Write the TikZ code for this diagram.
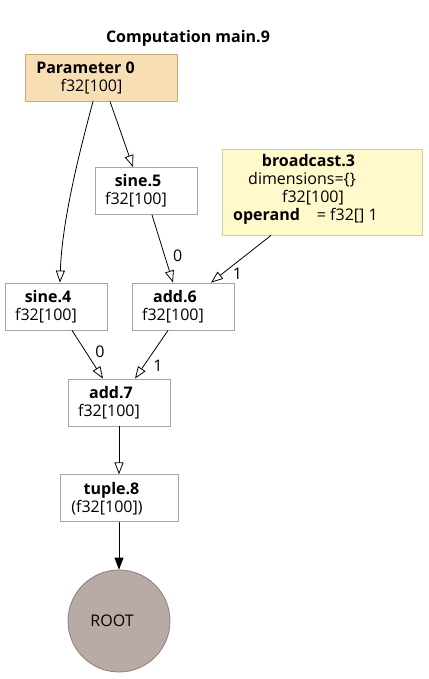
\documentclass[tikz,border=0pt]{standalone}
\usepackage{fontspec}
\setmainfont{Open Sans}
\usetikzlibrary{positioning,arrows.meta}

\definecolor{boxgray}{HTML}{A6A6A6}
\definecolor{paramfill}{HTML}{F8DEB5}
\definecolor{paramline}{HTML}{C9A978}
\definecolor{bcfill}{HTML}{FFF9CB}
\definecolor{bcline}{HTML}{D6CE98}
\definecolor{rootfill}{HTML}{B8ABA6}
\definecolor{rootline}{HTML}{8B7D78}

% op label: bold name over shape, both set a bit left of centre
\newcommand{\optext}[2]{\textbf{#1}\hspace*{16pt}\\#2\hspace*{20pt}}

\begin{document}
\begin{tikzpicture}[x=1pt,y=-1pt,
  every node/.style={font=\fontsize{16}{18}\selectfont},
  op/.style={draw=boxgray,fill=white,minimum width=102pt,minimum height=47pt,align=center,inner sep=0pt},
  param/.style={op,draw=paramline,fill=paramfill,minimum width=152pt},
  bcbox/.style={draw=bcline,fill=bcfill,minimum width=200pt,minimum height=86pt,inner sep=0pt},
  rootnode/.style={draw=rootline,fill=rootfill,circle,minimum size=102pt,inner sep=0pt},
  lbl/.style={inner sep=0pt},
  >={Triangle[open,length=12pt,width=9pt]}, line width=0.8pt]

\useasboundingbox (0,0) rectangle (428,679);

\node[font=\fontsize{16}{18}\selectfont\bfseries] (title) at (188,38) {Computation main.9};

\node[param] (p0) at (101,77.5) {\textbf{Parameter 0}\hspace*{31pt}\\f32[100]\hspace*{19pt}};
\node[op] (sine5) at (146,191) {\optext{sine.5}{f32[100]}};
\node[bcbox] (bc) at (322,192) {};
\node[align=center] (bctext) at (302,189)
  {\hspace*{13pt}\textbf{broadcast.3}\\dimensions=\{\}\\\hspace*{22pt}f32[100]\\\hspace*{7pt}\textbf{operand}\hspace{17pt}= f32[] 1};
\node[op] (sine4) at (56,306.5) {\optext{sine.4}{f32[100]}};
\node[op] (add6) at (183,306.5) {\optext{add.6}{f32[100]}};
\node[op] (add7) at (119,402.5) {\optext{add.7}{f32[100]}};
\node[op,minimum width=118pt,below=48pt of add7] (tuple8) {\textbf{tuple.8}\hspace*{15pt}\\(f32[100])\hspace*{24pt}};
\node[rootnode] (root) at (119,621) {ROOT\hspace*{14pt}};

% edges
\draw[->] ([xshift=-8pt]p0.south) .. controls (80,150) and (62,220) .. ([xshift=4pt]sine4.north);
\draw[->] ([xshift=9pt]p0.south) -- ([xshift=-13pt]sine5.north);
\draw[->] ([xshift=6pt]sine5.south) -- node[lbl,pos=0.6,xshift=13pt] {0} ([xshift=-10pt]add6.north);
\draw[->] ([xshift=-51pt]bc.south) -- node[lbl,pos=0.81,xshift=15pt] {1} ([xshift=28pt]add6.north);
\draw[->] ([xshift=16pt]sine4.south) -- node[lbl,pos=0.45,xshift=14pt] {0} ([xshift=-16pt]add7.north);
\draw[->] ([xshift=-15pt]add6.south) -- node[lbl,pos=0.73,xshift=14pt] {1} ([xshift=16pt]add7.north);
\draw[->] (add7) -- (tuple8);
\draw[-{Triangle[length=12pt,width=9pt]}] (tuple8) -- (root);
\end{tikzpicture}
\end{document}
